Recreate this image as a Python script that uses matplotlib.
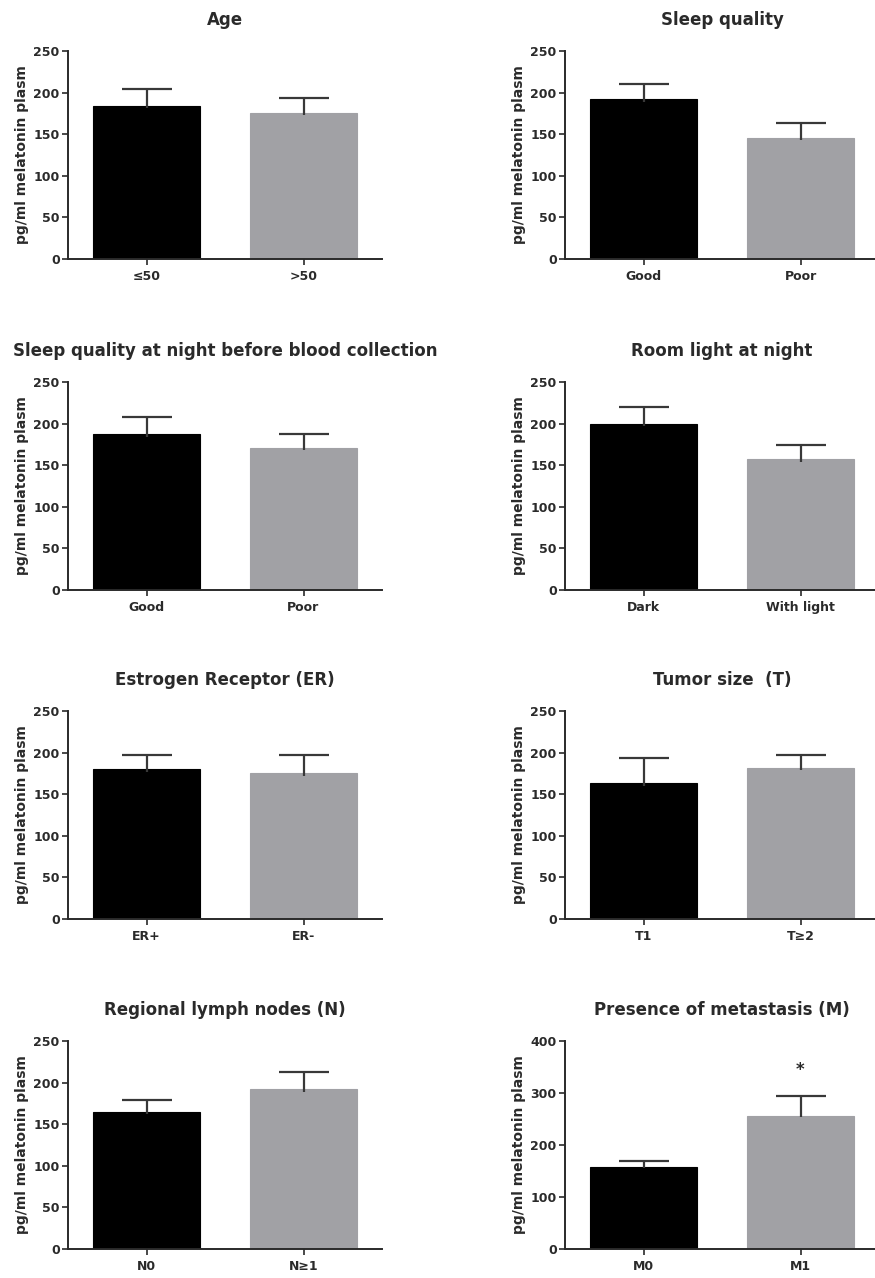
import matplotlib
matplotlib.use("Agg")
import matplotlib.pyplot as plt

plt.rcParams['font.family'] = ['DejaVu Sans']
plt.rcParams['font.weight'] = 'bold'

titles = ["Age", "Sleep quality",
          "Sleep quality at night before blood collection", "Room light at night",
          "Estrogen Receptor (ER)", "Tumor size  (T)",
          "Regional lymph nodes (N)", "Presence of metastasis (M)"]
categories = [["≤50", ">50"], ["Good", "Poor"],
              ["Good", "Poor"], ["Dark", "With light"],
              ["ER+", "ER-"], ["T1", "T≥2"],
              ["N0", "N≥1"], ["M0", "M1"]]
means = [[184, 176], [192, 146],
         [187, 171], [200, 157],
         [180, 175], [163, 182],
         [165, 192], [158, 256]]
sems = [[20, 17], [18, 17],
        [21, 17], [20, 17],
        [17, 22], [31, 15],
        [14, 21], [12, 38]]
ymaxes = [250, 250, 250, 250, 250, 250, 250, 400]
ytick_steps = [50, 50, 50, 50, 50, 50, 50, 100]
stars = ["", "", "", "", "", "", "", "*"]
ylabel = "pg/ml melatonin plasm"
bar_colors = ["#000000", "#a1a1a5"]

W, H = 875, 1278
fig = plt.figure(figsize=(W / 100, H / 100), dpi=100)

col_left = [68, 565]
ax_w = 314
row_top = [51, 382, 711, 1041]
ax_h = 208
ink = '#2a2a2a'

for i in range(8):
    r, c = divmod(i, 2)
    left = col_left[c]
    top = row_top[r]
    ax = fig.add_axes([left / W, 1 - (top + ax_h) / H, ax_w / W, ax_h / H])
    x = [0, 1]
    ax.bar(x, means[i], width=0.68, color=bar_colors, edgecolor=["#000000", "#a1a1a5"],
           linewidth=0.8, zorder=2)
    eb = ax.errorbar(x, means[i], yerr=[[3, 3], sems[i]], fmt='none', ecolor='#383838',
                     elinewidth=1.6, capsize=18, capthick=1.6, zorder=3)
    eb[1][0].set_visible(False)
    ax.set_xlim(-0.5, 1.5)
    ax.set_ylim(0, ymaxes[i])
    ax.set_yticks(range(0, ymaxes[i] + 1, ytick_steps[i]))
    ax.set_xticks(x)
    ax.set_xticklabels(categories[i], fontsize=9, fontweight='bold', color=ink)
    for lab in ax.get_yticklabels():
        lab.set_fontsize(9)
        lab.set_fontweight('bold')
        lab.set_color(ink)
    for s in ['top', 'right']:
        ax.spines[s].set_visible(False)
    for s in ['left', 'bottom']:
        ax.spines[s].set_linewidth(1.4)
        ax.spines[s].set_color(ink)
    ax.tick_params(axis='y', direction='out', length=4.5, width=1.2, color=ink, pad=1.5)
    ax.tick_params(axis='x', direction='out', length=4.5, width=1.2, color=ink, pad=3.5)
    ax.set_ylabel(ylabel, fontsize=10, fontweight='bold', color=ink, labelpad=3)
    ax.patch.set_alpha(0)
    if stars[i]:
        ax.text(1, means[i][1] + sems[i][1] + 50, stars[i], ha='center', va='center',
                fontsize=12, fontweight='bold', color=ink)
    fig.text((left + ax_w / 2) / W, 1 - (top - 31) / H, titles[i], ha='center', va='center',
             fontsize=12, fontweight='bold', color=ink)

fig.savefig("out.png", dpi=100)
